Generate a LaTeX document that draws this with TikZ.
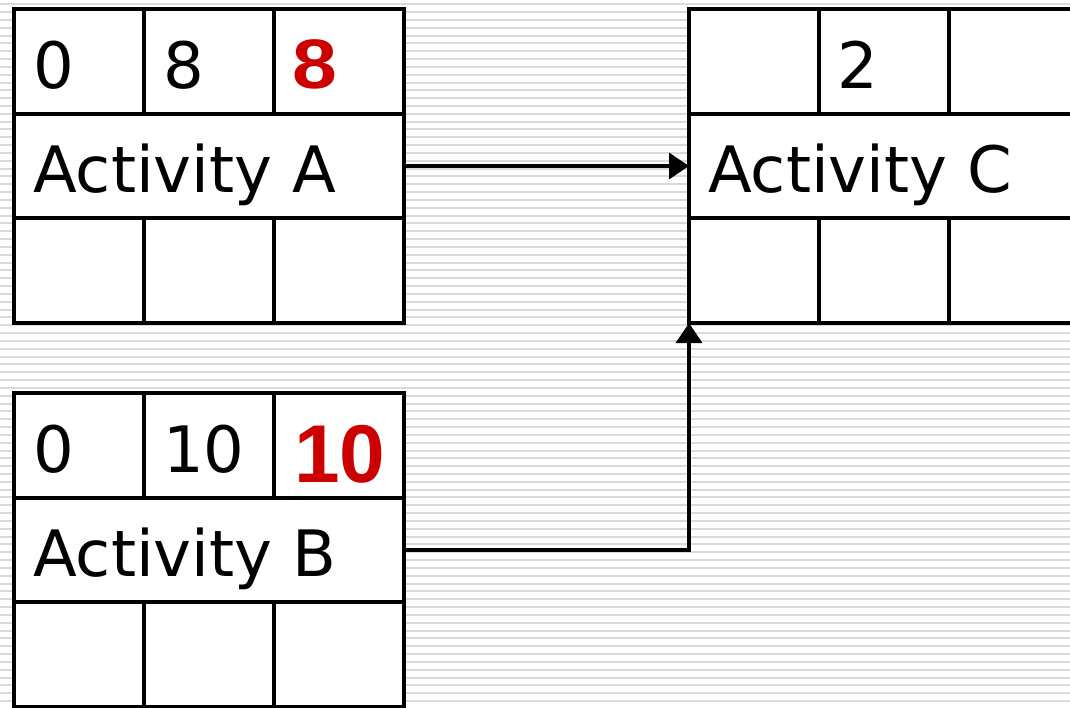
\documentclass[tikz,border=0pt]{standalone}
\usepackage{fontspec}
\setmainfont{DejaVu Sans}
\newfontfamily\boldnum{Liberation Sans}
\usetikzlibrary{arrows.meta}
\definecolor{stripe}{HTML}{D9D9D9}
\definecolor{hotred}{HTML}{CC0000}

\tikzset{
  actframe/.style={draw=black, fill=white, line width=4.5pt, inner sep=0pt,
    outer sep=0pt, minimum width=390pt, minimum height=314pt, anchor=north west},
  gridline/.style={line width=4.5pt, line cap=rect},
  celltext/.style={anchor=base west, inner sep=0pt, font=\fontsize{64}{64}\selectfont},
  rednum/.style={anchor=base west, inner sep=0pt, text=hotred},
  link/.style={line width=3.5pt, -{Triangle[length=20pt,width=26pt]}},
}

% one activity box: name, left x, top y
\newcommand\actbox[3]{%
  \node[actframe] (#1) at (#2,#3) {};
  \draw[gridline] (#2,{#3+105}) -- ({#2+390},{#3+105});
  \draw[gridline] (#2,{#3+209}) -- ({#2+390},{#3+209});
  \draw[gridline] ({#2+130},#3) -- ({#2+130},{#3+105});
  \draw[gridline] ({#2+260},#3) -- ({#2+260},{#3+105});
  \draw[gridline] ({#2+130},{#3+209}) -- ({#2+130},{#3+314});
  \draw[gridline] ({#2+260},{#3+209}) -- ({#2+260},{#3+314});
}

\begin{document}
\begin{tikzpicture}[x=1pt, y=-1pt]
\useasboundingbox (0,0) rectangle (1070,707);
\clip (0,0) rectangle (1070,707);

% striped backdrop
\fill[white] (0,0) rectangle (1070,707);
\foreach \k in {0,...,90}
  \fill[stripe] (0,{3.2+\k*7.83}) rectangle (1070,{5.2+\k*7.83});

% activity boxes
\actbox{A}{14}{9}
\actbox{B}{14}{393}
\actbox{C}{689}{9}

% Activity A
\node[celltext] (A-es) at (33,88) {0};
\node[celltext] (A-d) at (163,88) {8};
\node[rednum, font=\boldnum\bfseries\fontsize{70}{70}\selectfont] (A-ef) at (292,88) {\scalebox{1.15}[1]{8}};
\node[celltext] (A-name) at (33,192) {Activity A};

% Activity B
\node[celltext] (B-es) at (33,472) {0};
\node[celltext] (B-d) at (163,472) {10};
\node[rednum, font=\boldnum\bfseries\fontsize{82}{82}\selectfont] (B-ef) at (294,482) {10};
\node[celltext] (B-name) at (33,576) {Activity B};

% Activity C
\node[celltext] (C-d) at (837,88) {2};
\node[celltext] (C-name) at (708,192) {Activity C};

% dependencies
\draw[link] (A.east) -- (C.west);
\draw[link] (B.east) -| (C.south west);
\end{tikzpicture}
\end{document}
